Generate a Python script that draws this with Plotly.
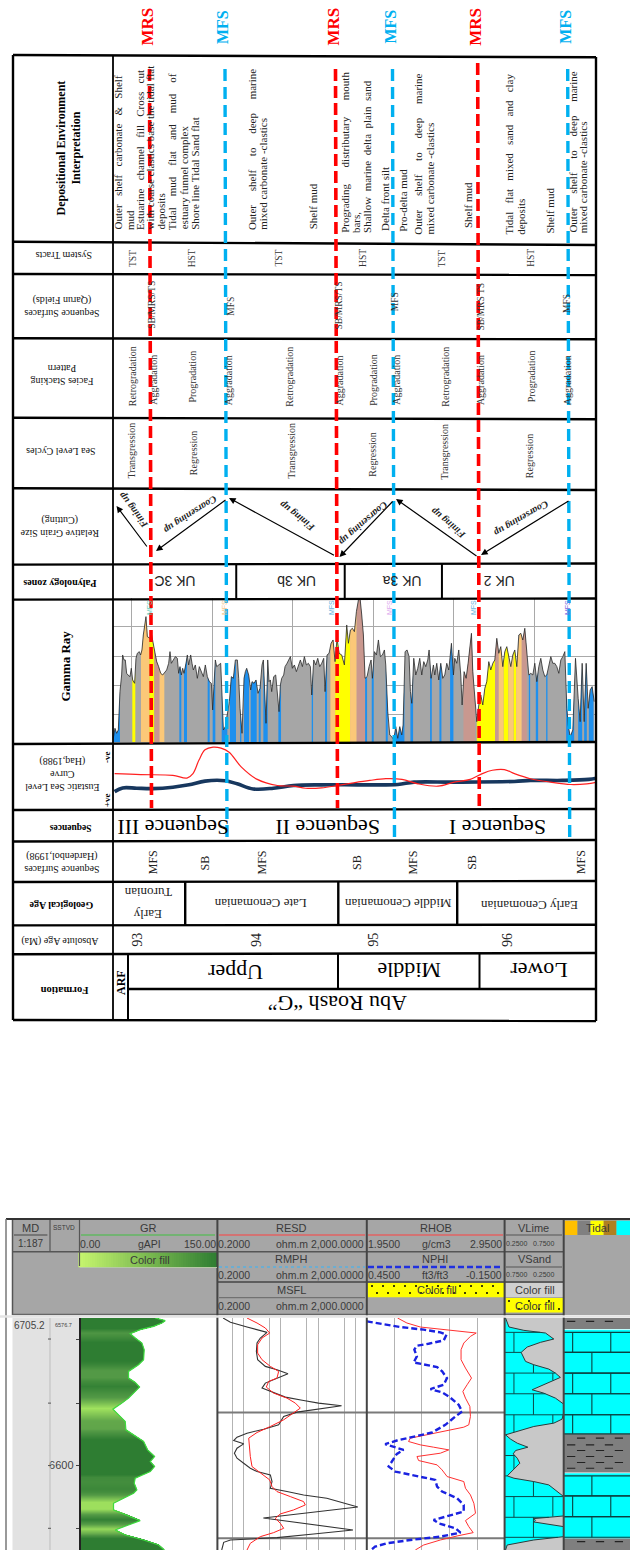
import numpy as np
import plotly.graph_objects as go

SERIF = "Liberation Serif"
SANS = "Liberation Sans"
RED = "#ff0000"
CYAN = "#00b0f0"

# ---------- DATA: gamma ray (three read-off stretches) ----------
gr_dist_a = [40,45,50,55,60,65,68,72,76,80,84,90,94,98,104,108,112,118,122,126,130,134,138,142,150,155,160,165,170,176,182,188,192,200,206,210,214,220,226,232,236,240,244,248,252,258,262,266,272,276,280,286,292,298,304,310,316,322,328,334,338,342,346,350,356,362,366,370,376,382,388,394,400,406,412,416,420,426,432,436,440,446,452,456,462,468,474,480,486,490,494,498,503]
gr_val_a = [12,42,27,37,152,202,262,247,247,207,202,197,222,187,177,252,267,272,262,277,322,352,377,317,312,322,292,267,242,227,207,202,207,217,237,272,237,247,257,252,207,227,202,222,207,237,262,232,262,237,217,232,192,227,212,197,232,197,182,177,97,167,247,227,232,237,142,37,47,92,122,197,192,247,247,192,102,27,192,212,222,202,157,182,177,187,147,162,232,247,152,57,232]
gr_dist_b = [8,12,16,20,26,32,38,42,46,50,56,60,66,72,76,82,88,94,100,106,112,118,124,130,136,140,146,152,158,164,170,176,180,186,192,198,204,210,216,222,230,238,245,250,256,262,268,274,280,285,290,295,300,306,312,318,322,328,334,340,346,352,358,362,368,374,380,386,392,398,404,410,414,420,426,432,436,440,446,452,458,464,470,476,482,488,492,498,505]
gr_val_b = [247,182,187,152,197,202,142,92,172,192,202,227,237,247,257,222,232,212,232,247,227,257,232,237,227,142,247,232,252,227,237,252,152,262,267,297,307,242,312,267,262,232,352,297,337,342,332,392,427,432,382,322,192,197,227,247,192,272,262,307,257,262,277,232,92,22,17,7,47,12,47,22,52,272,277,257,152,117,252,202,222,252,202,242,227,247,277,192,232]
gr_dist_c = [10,14,20,26,32,38,44,50,56,60,64,70,74,80,86,92,96,102,108,114,120,124,128,134,140,146,152,158,164,170,176,182,188,194,200,206,212,218,224,230,236,242,248,254,260,266,272,278,284,290,296,302,308,314,320,326,332,338,344,350,356,362,368,374,380,386,392,398,404,410,414,420,428,436,444,450,456,462,468,474,480,486,492]
gr_val_c = [232,202,237,187,237,192,202,237,217,252,297,202,252,237,277,202,112,212,192,237,292,327,212,122,62,112,142,112,162,182,242,217,237,247,312,267,287,227,272,287,257,227,262,277,227,322,327,307,342,272,202,207,202,237,182,227,252,217,197,202,227,257,237,237,227,207,247,257,272,102,52,17,37,252,132,62,237,62,237,102,157,167,122]

# facies stretches along the gamma ray trace
facies_blue = [(40,60),(238,244),(252,261),(323,329),(338,346),(365,382),(390,408),(420,424),(432,447),(452,470),(476,482),(490,503),(535,543),(635,639),(675,681),(795,801),(815,821),(857,863),(879,913),(931,939),(990,995),(1018,1024),(1050,1060),(1286,1290),(1307,1314),(1338,1342),(1398,1422),(1434,1446),(1452,1460),(1466,1480)]
facies_yellow = [(97,106),(148,163),(705,750),(1130,1185),(1210,1225),(1240,1248)]
facies_orange = [(123,148),(178,193),(691,705),(750,770),(1195,1210),(1225,1240),(1248,1265)]
facies_brown = [(163,178),(770,795),(1090,1125),(1185,1195),(1265,1280)]

# eustatic curves
haq_x = [285,350,430,465,480,495,510,530,550,570,600,640,690,730,760,800,840,880,920,960,1000,1040,1090,1130,1170,1200,1225,1255,1280,1320,1370,1420,1460,1485]
haq_y = [805,808,810,818,805,765,735,727,730,742,785,822,840,842,848,847,840,832,825,820,822,835,842,830,822,805,795,793,805,820,830,837,835,830]
trend_x = [285,305,340,380,430,470,510,560,590,630,680,730,800,900,990,1030,1130,1280,1320,1400,1465,1490]
trend_y = [858,847,848,849,845,838,827,826,835,850,848,840,838,838,837,830,830,828,825,825,822,817]

# well log
gr_rows = [25,33,40,50,60,72,85,100,120,150,165,185,205,218,232,250,265,280,298,315,335,360,372,395,420,440,455,470,485,505,520,540,550,565,580,600,615,632,645,660,675,690,705,720]
gr_api = [82.6,93.5,89.9,80.8,66.2,55.3,60.8,68.1,70.6,69.9,64.4,53.5,53.5,60.8,65.5,59,53.5,46.2,36.4,42.6,49.9,50.6,57.1,69.9,74.3,81.9,77.2,81.9,77.2,60.8,59.7,62.6,59,48,37.1,37.1,51.7,66.2,53.5,38.9,49.9,69.9,86.3,92.5]
msfl_rows = [25,38,52,68,85,100,125,150,170,180,192,205,220,235,248,262,272,280,288,302,307,320,345,358,370,382,392,402,415,430,445,460,475,485,495,515,535,545,555,565,591,624,660,672,683,690,697,720]
msfl_ohm = [.284,.446,1.24,4.26,2.82,2.30,2.21,2.39,3.84,7.88,15.5,7.88,3.84,3.13,6.41,13.2,40.6,102,422,55.5,27,11.9,8.73,3.47,1.24,.67,.547,1.01,.67,.57,.67,1.01,1.52,2.30,5.23,5.8,5.23,14.6,40.6,170,1150,3.4,853,75.4,7.88,.446,.295,.261]
resd_rows = [25,40,55,70,85,105,130,150,170,185,205,215,232,250,265,280,295,310,330,350,368,385,410,440,470,490,510,530,545,560,575,585,600,612,625,640,655,668,680,700,720]
resd_ohm = [1.24,2.30,3.84,5.02,3.13,2.39,2.39,3.13,5.23,8.73,7.88,4.72,4.08,6.41,14.6,24.4,33.2,21.9,11.9,5.23,2.30,1.38,1.43,1.52,1.69,2.82,5.02,5.8,7.88,17.9,40.6,45.1,21.9,9.66,7.1,9.66,11.9,6.41,2.82,1.52,1.24]
rhob_rows = [25,40,52,60,65,70,80,100,120,150,175,205,225,245,265,290,320,345,352,362,375,385,395,405,412,420,430,440,452,465,480,500,515,535,555,580,610,632,650,668,678,690,705,720]
rhob_gcc = [2.173,2.241,2.338,2.533,2.654,2.744,2.702,2.654,2.634,2.634,2.666,2.71,2.678,2.647,2.666,2.698,2.702,2.69,2.654,2.533,2.387,2.266,2.253,2.338,2.435,2.545,2.484,2.314,2.326,2.46,2.496,2.533,2.654,2.666,2.702,2.727,2.739,2.666,2.69,2.722,2.605,2.484,2.363,2.302]
nphi_rows = [35,42,52,60,68,75,92,102,108,120,140,158,165,172,185,205,225,238,248,262,285,305,320,345,368,380,392,403,410,420,432,470,485,497,510,530,545,565,585,605,618,630,640,655,668,680,690,700,710,718]
nphi_frac = [.45,.384,.304,.202,.13,.103,.115,.181,.232,.243,.232,.246,.195,.144,.122,.101,.115,.173,.122,.089,.05,.035,.064,.108,.166,.246,.319,.37,.334,.29,.319,.355,.326,.246,.152,.144,.122,.057,.028,.028,.093,.159,.137,.064,.042,.13,.261,.363,.414,.428]
vlime_rows = [25,52,62,70,88,98,112,128,155,165,178,190,203,220,240,250,265,283,308,328,340,350,365,375,388,400,412,422,432,445,460,480,498,505,515,525,545,560,618,626,631,636,650,680,690,705,720]
vlime_frac = [.258,.287,.413,.596,.666,.553,.441,.39,.427,.497,.624,.68,.722,.61,.483,.581,.68,.75,.75,.736,.666,.497,.357,.258,.301,.357,.447,.343,.323,.357,.379,.323,.272,.329,.497,.624,.694,.75,.75,.497,.511,.497,.75,.75,.497,.272,.258]
depth_tick_rows = [88,280,467,655]
depth_tick_text = ["","","6600",""]
marker_rows = [308,685]
resistivity_grid = [.5,1,5,10,50,100,500,1000]
density_grid = [2.15,2.35,2.55,2.75]
shale_spans = [(25,58),(372,488),(685,720)]
lime_spans = [(60,372),(490,685)]
shale_dash_rows = [35,385,405,422,440,458,475,695]
vlime_brick_rows = [68,128,190,252,315,375,437,498,560,622,682]
tidal_bands = [(68,128),(128,190),(190,252),(252,315),(315,372),(498,558),(558,620),(620,682)]

# ---------- DATA: table texts ----------
env_lines = ["Outer shelf carbonate & Shelf","mud","Estuarine channel fill Cross cut","with coarse clastics base the tidal flat","deposits","Tidal mud flat and mud of","estuary funnel complex","Shore line Tidal Sand flat","Outer shelf to deep marine","mixed carbonate -clastics","Shelf mud","Prograding distributary mouth","bars,","Shallow marine delta plain sand","Delta front silt","Pro-delta mud","Outer shelf to deep marine","mixed carbonate -clastics","Shelf mud","Tidal flat mixed sand and clay","deposits","Shelf mud","Outer shelf to deep marine","mixed carbonate -clastics"]
env_zx = [293,322,347,373,400,428,457,487,627,655,778,857,885,912,960,1003,1042,1070,1165,1268,1297,1368,1424,1452]
env_zb = [695,695,695,695,695,695,695,695,695,695,695,705,705,705,700,700,710,710,690,710,710,708,705,705]
env_gap = [3,1,3,1,1,4,1,1,5,1,1,6,1,2,1,1,5,1,1,3,1,1,5,1]
tract_labels = ["TST","HST","TST","HST","TST","HST"]
tract_zx = [333,478,695,905,1100,1323]
qarun_labels = ["SB/MRS/TS","MFS","SB/MRS/TS","MFS","SB/MRS TS","MFS"]
qarun_zx = [378,575,845,982,1197,1413]
qarun_zy = [915,920,915,905,920,910]
stack_labels = ["Retrogradation","Aggradation","Progradation","Aggradation","Retrogradation","Aggradation","Progradation","Aggradation","Retrogradation","Aggradation","Progradation","Aggradation"]
stack_zx = [330,380,480,568,722,845,928,985,1110,1195,1323,1412]
stack_zy = [1130,1140,1130,1140,1130,1140,1140,1140,1130,1140,1130,1140]
cycle_labels = ["Transgression","Regression","Transgression","Regression","Transgression","Regression"]
cycle_zx = [328,480,727,925,1108,1317]
cycle_zy = [1352,1360,1352,1365,1355,1368]
zone_labels = ["UK 3C","UK 3b","UK 3a","UK 2"]
zone_zx = [435,738,1000,1243]
seq_labels = ["Sequence III","Sequence II","Sequence I"]
seq_zx = [432,815,1237]
surf_labels = ["MFS","SB","MFS","SB","MFS","SB","MFS"]
surf_zx = [380,510,652,887,1028,1173,1445]
age_names = ["Turonian","Early","Late Cenomanian","Middle Cenomanian","Early Cenomanian"]
age_zx = [367,367,648,990,1318]
age_zy = [1155,1222,1188,1188,1195]
ma_labels = ["93","94","95","96"]
ma_zx = [340,637,928,1262]
mrs_top = [149.5,335.5,477.7]
mrs_bot = [151.5,337.5,479.3]
mfs_top = [225,392.5,567.7]
mfs_bot = [227,394.5,569.7]
mrs_start = [69,69,63]
mini_tags = ["MFS","MFS","MFS","MFS","MFS","MFS"]
mini_x = [149,224,331,389,473,567]
mini_color = ["#66ccbb","#f5c78a","#66b4dd","#ddaaee","#66b4dd","#7766dd"]

shapes, anns, traces = [], [], []

def px(z): return z / 2.489
def y1(z): return z / 3
def y2(z): return 500 + z / 2.943
def y3(z): return 1210 + z / 3

def T(text, x, y, size=9, angle=0, font=SERIF, color="#000", bold=False, xa="center", ya="middle"):
    anns.append(dict(text=f"<b>{text}</b>" if bold else text, x=x, y=y, xref="x", yref="y", showarrow=False,
                     textangle=angle, xanchor=xa, yanchor=ya, font=dict(family=font, size=size, color=color)))

def L(x0, y0, x1, y1_, w=2.4, c="#000", dash=None, layer="above"):
    shapes.append(dict(type="line", x0=x0, y0=y0, x1=x1, y1=y1_, xref="x", yref="y", layer=layer,
                       line=dict(color=c, width=w, dash=dash)))

def R(x0, y0, x1, y1_, fill, layer="below"):
    shapes.append(dict(type="rect", x0=x0, y0=y0, x1=x1, y1=y1_, xref="x", yref="y", layer=layer,
                       fillcolor=fill, line=dict(width=0)))

# ---------- table frame ----------
row_lines = [(55,57.3),(241.7,245),(274,275),(338.3,339.3),(417.7,419.3),(488.3,490),(564.6,563.5),(599.6,598.5),(744,742),(810,809),(841.5,840),(882,881),(925.4,924.7),(954.3,953),(1020,1021)]
for a, b in row_lines:
    L(13, a, 596, b)
L(13, 55, 13, 1020); L(113, 55, 113, 1020, 1.8); L(596, 57, 596, 1021)
for z in (588, 858, 1100):
    L(px(z), 564, px(z), 598.5, 2)
L(px(461), 882, px(461), 925); L(px(842), 882, px(842), 925); L(px(1138), 882, px(1138), 925)
L(128, 953.5, 128, 1020, 2); L(128, 989, 596, 989, 2.6)
L(338, 953.5, 338, 989, 2); L(479.5, 953.5, 479.5, 989, 2)

# ---------- table texts ----------
for t, z, b, g in zip(env_lines, env_zx, env_zb, env_gap):
    T(t.replace(" ", "\u00a0" * g), px(z), y1(b), 11, -90, ya="bottom", color="#222")
for t, z in zip(tract_labels, tract_zx):
    T(t, px(z), y1(775), 9.5, -90, color="#333")
for t, z, v in zip(qarun_labels, qarun_zx, qarun_zy):
    T(t, px(z), y1(v), 9.5, -90, color="#333")
for t, z, v in zip(stack_labels, stack_zx, stack_zy):
    T(t, px(z), y1(v), 10, -90, color="#333")
for t, z, v in zip(cycle_labels, cycle_zx, cycle_zy):
    T(t, px(z), y1(v), 10, -90, color="#333")
for t, z in zip(zone_labels, zone_zx):
    T(t, px(z), y2(240), 14, 180, font=SANS, color="#222")
for t, z in zip(seq_labels, seq_zx):
    T(t, px(z), y2(962), 22, 180)
for t, z in zip(surf_labels, surf_zx):
    T(t, px(z), y2(1067), 12, -90, color="#222")
for t, z, v in zip(age_names, age_zx, age_zy):
    T(t, px(z), y2(v), 13, 180, color="#222")
for t, z in zip(ma_labels, ma_zx):
    T(t, px(z), y2(1295), 14, -90, color="#222")

T("Depositional Environment<br>Interpretation", px(172), y1(445), 12, -90, bold=True)
T("System Tracts", px(158), y1(768), 10, 180, color="#111")
T("Sequence Surfaces<br>(Qarun Fields)", px(155), y1(920), 10, 180, color="#111")
T("Facies Stacking<br>Pattern", px(155), y1(1125), 10, 180, color="#111")
T("Sea Level Cycles", px(150), y1(1355), 10, 180, color="#111")
T("Relative Grain Size<br>(Cutting)", px(148), y2(78), 10, 180, color="#111")
T("Palynology zones", px(150), y2(245), 10, 180, bold=True)
T("Gamma Ray", px(162), y2(490), 13, -90, bold=True)
T("Eustatic Sea Level<br>Curve<br>(Haq,1988)", px(155), y2(808), 10, 180, color="#111")
T("-ve", px(265), y2(755), 9, -90, bold=True)
T("+ve", px(265), y2(882), 9, -90, bold=True)
T("Sequences", px(175), y2(965), 9.5, 180, bold=True)
T("Sequence Surfaces<br>(Hardenbol,1998)", px(155), y2(1065), 10, 180, color="#111")
T("Geological Age", px(152), y2(1195), 10, 180, bold=True)
T("Absolute Age (Ma)", px(150), y2(1300), 10, 180, color="#111")
T("Formation", px(160), y2(1443), 10.5, 180, bold=True)
T("ARF", px(300), y2(1420), 12, -90, bold=True)
T("Upper", px(585), y2(1390), 22, 180)
T("Middle", px(1018), y2(1385), 22, 180)
T("Lower", px(1340), y2(1385), 22, 180)
T("Abu Roash “G”", px(840), y2(1480), 22, 180)

# surfaces
for a, b, s in zip(mrs_top, mrs_bot, mrs_start):
    L(a, s, b, 808, 3.6, RED, "12px,5px")
    T("MRS", a - 3, 27, 17, -90, color=RED, bold=True)
for a, b in zip(mfs_top, mfs_bot):
    L(a, 69, b, 841, 3.4, CYAN, "12px,6px")
    T("MFS", a - 3, 27, 16, -90, color=CYAN, bold=True)
for t, x, c in zip(mini_tags, mini_x, mini_color):
    T(t, x, 608, 7, -90, font=SANS, color=c)

# grain-size arrows: (tail x, tail y, head x, head y)
grain_arrows = [(148,548,116.5,506),(227,499,156,551),(335.5,556,229,498),(394,500,339.5,557),(478,557,396,499),(570,500,481,555)]
for a, b, c, d in grain_arrows:
    anns.append(dict(x=c, y=d, ax=a, ay=b, xref="x", yref="y", axref="x", ayref="y", text="", showarrow=True,
                     arrowhead=2, arrowsize=1.1, arrowwidth=1.2, arrowcolor="#000"))
trend_words = [("Fining up",133,511,-127),("Coarsening up",191,515,147),("Fining up",297,517,-142),("Coarsening up",363.6,524,139),("Fining up",448,524,-140),("Coarsening up",522,519,150)]
for t, x, y, a in trend_words:
    T(f"<i>{t}</i>", x, y, 10, a, bold=True, color="#222")

# ---------- gamma ray panel ----------
gx = np.array(gr_dist_a + [v + 495 for v in gr_dist_b] + [v + 990 for v in gr_dist_c], float)
gv = np.array(gr_val_a + gr_val_b + gr_val_c, float)
def fill_gr(x, y, color):
    traces.append(go.Scatter(x=x, y=y, xaxis="x2", yaxis="y2", mode="lines", line=dict(width=0), fill="tozeroy",
                             fillcolor=color, hoverinfo="skip"))
fill_gr(gx, gv, "#a6a6a6")
for spans, color in ((facies_blue, "#1e90ee"), (facies_yellow, "#ffff00"), (facies_orange, "#fbc878"), (facies_brown, "#c9988f")):
    for a, b in spans:
        xs = np.arange(a, b + 1)
        fill_gr(xs, np.interp(xs, gx, gv), color)
traces.append(go.Scatter(x=gx, y=gv, xaxis="x2", yaxis="y2", mode="lines", line=dict(color="#2a2a2a", width=0.8), hoverinfo="skip"))

# ---------- eustatic ----------
traces.append(go.Scatter(x=trend_x, y=trend_y, xaxis="x3", yaxis="y3", mode="lines", line=dict(color="#17375e", width=3.6, shape="spline"), cliponaxis=False))
traces.append(go.Scatter(x=haq_x, y=haq_y, xaxis="x3", yaxis="y3", mode="lines", line=dict(color="#ff2020", width=1.2, shape="spline")))

# ---------- log header ----------
R(12.5, 1220, 630, 1315, "#a6a6a6")
L(6, 1219, 630, 1219, 2, "#333")
L(6, 1219, 6, 1550, 1.5, "#777")
L(12.5, 1220, 12.5, 1315, 1.5, "#555")
L(12.5, 1251.7, 563.7, 1251.7, 1.5, "#555")
L(218, 1282, 563.7, 1282, 1.5, "#444")
L(12.5, 1314.5, 563.7, 1314.5, 1.5, "#666")
L(14, 1235, 47.4, 1235, 1, "#444")
L(50, 1220, 50, 1251.7, 1.2, "#555")
L(79.5, 1220, 79.5, 1266, 1.2, "#555")
for xv in (217.4, 366.8, 504.6, 563.7):
    L(xv, 1220, xv, 1550, 2, "#444")
H = "#3a3a3a"
T("MD", 30.5, 1228, 11, font=SANS, color=H); T("1:187", 30.5, 1243, 10, font=SANS, color=H)
T("SSTVD", 63.5, 1227, 6.5, font=SANS, color=H)
T("GR", 148, 1227.5, 11, font=SANS, color=H)
L(81, 1235, 215, 1235, 1, "#40c040")
T("0.00", 90, 1243.5, 10.5, font=SANS, color=H); T("gAPI", 149, 1243.5, 10.5, font=SANS, color=H); T("150.00", 199.5, 1243.5, 10.5, font=SANS, color=H)
gxs = np.linspace(79.5, 217, 60)
traces.append(go.Heatmap(x=gxs, y0=1259.5, dy=14.5, z=[gxs], xaxis="x", yaxis="y", showscale=False, hoverinfo="skip",
                         colorscale=[[0, "#c6f56e"], [1, "#2e7d32"]]))
L(79.5, 1267.5, 217, 1267.5, 1, "#b5c9a5")
T("Color fill", 150, 1259.5, 11, font=SANS, color=H)
for name, yt, ln, yv, c, d, w in (("RESD", 1227.5, 1235, 1243.5, "#ff4040", None, 1), ("RMPH", 1259, 1267, 1275, "#5ab0e0", "dot", 1.5), ("MSFL", 1290, 1297.7, 1306, "#666", None, 1)):
    T(name, 291, yt, 11, font=SANS, color=H)
    L(219, ln, 365, ln, w, c, d)
    T("0.2000", 234, yv, 10.5, font=SANS, color=H)
    T("ohm.m 2,000.0000", 320, yv, 10.5, font=SANS, color=H)
T("RHOB", 436, 1227.5, 11, font=SANS, color=H); L(368, 1235, 503, 1235, 1, "#ff4040")
T("1.9500", 383.5, 1243.5, 10.5, font=SANS, color=H); T("g/cm3", 436, 1243.5, 10.5, font=SANS, color=H); T("2.9500", 486, 1243.5, 10.5, font=SANS, color=H)
T("NPHI", 435, 1259, 11, font=SANS, color=H); L(368, 1267, 503, 1267, 2.6, "#2030e0", "6px,3px")
T("0.4500", 383.5, 1275, 10.5, font=SANS, color=H); T("ft3/ft3", 435, 1275, 10.5, font=SANS, color=H); T("-0.1500", 484, 1275, 10.5, font=SANS, color=H)
R(367.6, 1282.7, 504, 1297.3, "#ffff00")
R(505.5, 1298, 563, 1312.5, "#ffff00")
R(505.5, 1283, 563, 1297, "#d0d0d0")
dot_x = [372+11*i for i in range(12)] + [377+11*i for i in range(12)] + [509+10*i for i in range(6)]
dot_y = [1286]*12 + [1293]*12 + [1301, 1309, 1301, 1309, 1301, 1309]
traces.append(go.Scatter(x=dot_x, y=dot_y, xaxis="x", yaxis="y", mode="markers", marker=dict(color="#000", size=2), hoverinfo="skip"))
T("Color fill", 437, 1290, 11, font=SANS, color=H)
T("VLime", 533, 1227.5, 11, font=SANS, color=H); L(506, 1235, 562, 1235, 1, "#555")
T("0.2500", 517, 1243.5, 7, font=SANS, color=H); T("0.7500", 544, 1243.5, 7, font=SANS, color=H)
T("VSand", 534.5, 1259, 11, font=SANS, color=H); L(506, 1267, 562, 1267, 1, "#555")
T("0.7500", 517, 1274, 7, font=SANS, color=H); T("0.2500", 544, 1274, 7, font=SANS, color=H)
T("Color fill", 535, 1290, 11, font=SANS, color=H); T("Color fill", 535, 1305.5, 11, font=SANS, color=H)
for a, b, c in ((564.5, 577.5, "#ffc000"), (577.5, 590.5, "#808080"), (590.5, 603.7, "#ffff00"), (603.7, 616.5, "#b08020"), (616.5, 630, "#00ffff")):
    R(a, 1220.7, b, 1235, c)
T("Tidal", 597.5, 1227.5, 11, font=SANS, color=H)

# ---------- log tracks ----------
R(12.5, 1318, 79.5, 1550, "#e2e2e2")
L(0, 1316.5, 630, 1316.5, 2.5, "#e4e4e4")
L(50, 1318, 50, 1550, 1, "#bdbdbd")
for r in depth_tick_rows:
    shapes.append(dict(type="line", x0=48, x1=51, y0=r, y1=r, xref="x", yref="y4", line=dict(color="#555", width=1)))
R(504.6, 1318, 563.7, 1550, "#c8c8c8")
T("6705.2", 29, 1325.5, 10, font=SANS, color="#444")
T("6576.7", 63.5, 1324.5, 5.5, font=SANS, color="#444")

fine = np.arange(25, 722, 3.0)
gr_fine = np.interp(fine, gr_rows, gr_api)
traces.append(go.Bar(y=fine, x=gr_fine, orientation="h", width=3.4, xaxis="x4", yaxis="y4", hoverinfo="skip",
                     marker=dict(color=gr_fine, cmin=35, cmax=68, line=dict(width=0),
                                 colorscale=[[0, "#a6e860"], [0.55, "#549a46"], [1, "#2e7d32"]])))
traces.append(go.Scatter(x=gr_api, y=gr_rows, xaxis="x4", yaxis="y4", mode="lines", line=dict(color="#3fdc3f", width=1.2), hoverinfo="skip"))

for r in marker_rows:
    traces.append(go.Scatter(x=[.2, 2000], y=[r, r], xaxis="x5", yaxis="y4", mode="lines", line=dict(color="#7a7a7a", width=2), hoverinfo="skip"))
    traces.append(go.Scatter(x=[1.95, 2.95], y=[r, r], xaxis="x6", yaxis="y4", mode="lines", line=dict(color="#7a7a7a", width=2), hoverinfo="skip"))
traces.append(go.Scatter(x=msfl_ohm, y=msfl_rows, xaxis="x5", yaxis="y4", mode="lines", line=dict(color="#333", width=1.1), hoverinfo="skip"))
traces.append(go.Scatter(x=resd_ohm, y=resd_rows, xaxis="x5", yaxis="y4", mode="lines", line=dict(color="#ff2020", width=1), hoverinfo="skip"))
traces.append(go.Scatter(x=rhob_gcc, y=rhob_rows, xaxis="x6", yaxis="y4", mode="lines", line=dict(color="#ff3030", width=1), hoverinfo="skip"))
traces.append(go.Scatter(x=nphi_frac, y=nphi_rows, xaxis="x7", yaxis="y4", mode="lines", line=dict(color="#1a22e0", width=2.4, dash="6px,3px"), hoverinfo="skip"))

# VLime
traces.append(go.Scatter(x=[.25]*len(vlime_rows), y=vlime_rows, xaxis="x8", yaxis="y4", mode="lines", line=dict(width=0), hoverinfo="skip"))
traces.append(go.Scatter(x=vlime_frac, y=vlime_rows, xaxis="x8", yaxis="y4", mode="lines", fill="tonextx", fillcolor="#00ffff",
                         line=dict(color="#2b3b3b", width=1), hoverinfo="skip"))
bx, by = [], []
vl_fine = np.arange(25, 721, 1.0)
vl_curve = np.interp(vl_fine, vlime_rows, vlime_frac)
for r in vlime_brick_rows:
    bx += [.25, float(np.interp(r, vlime_rows, vlime_frac)), None]; by += [r, r, None]
for i in range(len(vlime_brick_rows) - 1):
    verts = (.329, .658) if i % 2 == 0 else (.494,)
    for v in verts:
        run = False
        for r, c in zip(vl_fine, vl_curve):
            if vlime_brick_rows[i] <= r <= vlime_brick_rows[i + 1] and c >= v:
                bx.append(v); by.append(r); run = True
            elif run:
                bx.append(None); by.append(None); run = False
        bx.append(None); by.append(None)
traces.append(go.Scatter(x=bx, y=by, xaxis="x8", yaxis="y4", mode="lines", line=dict(color="#0b4a4a", width=1), hoverinfo="skip", connectgaps=False))

# Tidal lithology
for spans, c in ((shale_spans, "#7f7f7f"), (lime_spans, "#00ffff")):
    for a, b in spans:
        traces.append(go.Scatter(x=[790, 990, 990, 790, 790], y=[a, a, b, b, a], xaxis="x9", yaxis="y4", mode="lines", fill="toself",
                                 fillcolor=c, line=dict(width=0), hoverinfo="skip"))
tx, ty = [], []
for i, (a, b) in enumerate(tidal_bands):
    tx += [790, 990, None, 790, 990, None]; ty += [a, a, None, b, b, None]
    verts = (817, 932) if i % 2 == 0 else (875,)
    if i >= 5:
        verts = (875,) if i != 6 else (817, 932)
    for v in verts:
        tx += [v, v, None]; ty += [a, b, None]
traces.append(go.Scatter(x=tx, y=ty, xaxis="x9", yaxis="y4", mode="lines", line=dict(color="#0b3f3f", width=1.1), hoverinfo="skip"))
dx, dy = [], []
for j, r in enumerate(shale_dash_rows):
    off = 30 if j % 2 else 0
    for s in range(800, 990, 57):
        a = s + off
        if a + 25 < 990:
            dx += [a, a + 25, None]; dy += [r, r, None]
traces.append(go.Scatter(x=dx, y=dy, xaxis="x9", yaxis="y4", mode="lines", line=dict(color="#222", width=1.1), hoverinfo="skip"))

fig = go.Figure(traces)
hidden = dict(showgrid=False, zeroline=False, showticklabels=False, ticks="", showline=False, fixedrange=True)
def dom_x(a, b): return [a / 630, b / 630]
def dom_y(a, b): return [1 - b / 1550, 1 - a / 1550]
fig.update_layout(
    width=630, height=1550, margin=dict(l=0, r=0, t=0, b=0), showlegend=False, paper_bgcolor="#fff", plot_bgcolor="rgba(0,0,0,0)",
    barmode="overlay", shapes=shapes, annotations=anns, hovermode=False,
    xaxis=dict(hidden, range=[0, 630], domain=[0, 1]),
    yaxis=dict(hidden, range=[1550, 0], domain=[0, 1]),
    xaxis2=dict(hidden, domain=dom_x(113.3, 595.5), range=[40, 1486], anchor="y2", showgrid=True, gridcolor="#a9a9a9", gridwidth=1.4, tick0=95, dtick=241.5),
    yaxis2=dict(hidden, domain=dom_y(598.3, 742.3), range=[0, 432], anchor="x2", showgrid=True, gridcolor="#a9a9a9", gridwidth=1.4, tick0=82, dtick=88.3),
    xaxis3=dict(hidden, domain=dom_x(113, 596), range=[281, 1483], anchor="y3"),
    yaxis3=dict(hidden, domain=dom_y(742, 810), range=[912, 712], anchor="x3"),
    yaxis4=dict(domain=dom_y(1318, 1550), range=[720, 25], anchor="free", position=79.5 / 630, side="left", showgrid=False, zeroline=False,
                showline=True, linecolor="#222", linewidth=1.5, ticks="outside", ticklen=3, tickcolor="#444", tickvals=depth_tick_rows, ticktext=depth_tick_text,
                tickfont=dict(family=SANS, size=11, color="#444"), fixedrange=True),
    xaxis4=dict(hidden, domain=dom_x(79.5, 217), range=[0, 150], anchor="y4"),
    xaxis5=dict(hidden, domain=dom_x(217.4, 366.8), type="log", range=[np.log10(.2), np.log10(2000)], anchor="y4", showgrid=True, gridcolor="#b3b3b3", gridwidth=1.4, tickmode="array", tickvals=resistivity_grid),
    xaxis6=dict(hidden, domain=dom_x(366.8, 504.6), range=[1.95, 2.95], anchor="y4", showgrid=True, gridcolor="#b3b3b3", gridwidth=1.4, tickmode="array", tickvals=density_grid),
    xaxis7=dict(hidden, domain=dom_x(366.8, 504.6), range=[.45, -.15], anchor="y4", overlaying="x6"),
    xaxis8=dict(hidden, domain=dom_x(504.6, 563.7), range=[.25, .75], anchor="y4"),
    xaxis9=dict(hidden, domain=dom_x(563.7, 630), range=[790, 990], anchor="y4"),
)
fig.write_html("out.html", config={"displayModeBar": False}, post_script="document.body.style.margin='0';")
